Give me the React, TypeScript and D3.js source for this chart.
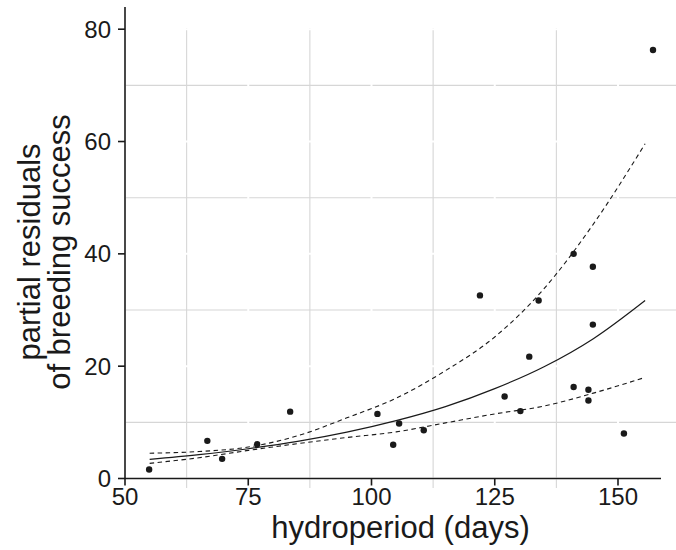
import React from "react";
import * as d3 from "d3";

const pointX = [54.9, 66.7, 69.7, 76.8, 83.5, 101.2, 104.4, 105.6, 110.6, 122.0, 127.0, 130.2, 132.0, 133.9, 141.0, 141.0, 144.0, 144.0, 144.9, 144.9, 151.2, 157.1];
const pointY = [1.6, 6.7, 3.5, 6.1, 11.9, 11.5, 6.0, 9.8, 8.6, 32.6, 14.6, 12.0, 21.7, 31.7, 40.0, 16.3, 15.8, 13.9, 37.7, 27.4, 8.0, 76.3];

const curveX = [55, 65, 75, 85, 95, 105, 115, 125, 135, 145, 155.5];
const fitY = [3.4, 4.25, 5.3, 6.6, 8.25, 10.3, 12.8, 16.0, 19.9, 24.9, 31.7];
const upperY = [4.5, 4.8, 5.6, 7.6, 10.8, 14.3, 19.2, 25.2, 33.8, 45.3, 59.6];
const lowerY = [2.7, 3.7, 5.0, 6.2, 7.3, 8.3, 9.9, 11.5, 12.9, 15.2, 18.0];

const xTicks = [50, 75, 100, 125, 150];
const xMinor = [62.5, 87.5, 112.5, 137.5];
const yTicks = [0, 20, 40, 60, 80];
const yMinor = [10, 30, 50, 70];

const xTitle = "hydroperiod (days)";
const yTitle1 = "partial residuals";
const yTitle2 = "of breeding success";

export default function App() {
  const W = 676, H = 550;
  const x = d3.scaleLinear().domain([50, 150]).range([125, 618]);
  const y = d3.scaleLinear().domain([0, 80]).range([478.5, 29.2]);
  const panelLeft = 125, panelRight = 676, panelTop = 28, panelBottom = 488;
  const axisRight = 661, axisTop = 7;
  const font = "'Liberation Sans', Arial, Helvetica, sans-serif";

  const line = d3.line<number>()
    .x((_, i) => x(curveX[i]))
    .curve(d3.curveMonotoneX);
  const fitPath = line.y((d) => y(d))(fitY) || "";
  const upPath = line.y((d) => y(d))(upperY) || "";
  const loPath = line.y((d) => y(d))(lowerY) || "";

  return (
    <svg width={W} height={H} style={{ position: "absolute", left: 0, top: 0, background: "#fff" }} fontFamily={font}>
      {xMinor.map((v) => (
        <line key={"xm" + v} x1={x(v)} x2={x(v)} y1={panelTop} y2={panelBottom} stroke="#d6d6d6" strokeWidth={1.1} />
      ))}
      {yMinor.map((v) => (
        <line key={"ym" + v} x1={panelLeft} x2={panelRight} y1={y(v)} y2={y(v)} stroke="#d6d6d6" strokeWidth={1.1} />
      ))}
      {xTicks.map((v) => (
        <line key={"xM" + v} x1={x(v)} x2={x(v)} y1={panelTop} y2={panelBottom} stroke="#fff" strokeWidth={2} />
      ))}
      {yTicks.map((v) => (
        <line key={"yM" + v} x1={panelLeft} x2={panelRight} y1={y(v)} y2={y(v)} stroke="#fff" strokeWidth={2} />
      ))}
      <path d={upPath} fill="none" stroke="#1a1a1a" strokeWidth={1.1} strokeDasharray="4.5,3.5" />
      <path d={loPath} fill="none" stroke="#1a1a1a" strokeWidth={1.1} strokeDasharray="4.5,3.5" />
      <path d={fitPath} fill="none" stroke="#1a1a1a" strokeWidth={1.2} />
      {pointX.map((v, i) => (
        <circle key={"p" + i} cx={x(v)} cy={y(pointY[i])} r={3.2} fill="#1a1a1a" />
      ))}
      <line x1={panelLeft} x2={axisRight} y1={y(0)} y2={y(0)} stroke="#1a1a1a" strokeWidth={1.6} />
      <line x1={panelLeft} x2={panelLeft} y1={axisTop} y2={y(0)} stroke="#1a1a1a" strokeWidth={1.6} />
      {xTicks.map((v) => (
        <g key={"xt" + v}>
          <line x1={x(v)} x2={x(v)} y1={y(0)} y2={y(0) + 7} stroke="#1a1a1a" strokeWidth={1.6} />
          <text x={x(v)} y={505} textAnchor="middle" fontSize={24} fill="#1a1a1a">{v}</text>
        </g>
      ))}
      {yTicks.map((v) => (
        <g key={"yt" + v}>
          <line x1={panelLeft - 7} x2={panelLeft} y1={y(v)} y2={y(v)} stroke="#1a1a1a" strokeWidth={1.6} />
          <text x={111} y={y(v)} dy="0.36em" textAnchor="end" fontSize={24} fill="#1a1a1a">{v}</text>
        </g>
      ))}
      <text x={(panelLeft + panelRight) / 2} y={538} textAnchor="middle" fontSize={31} fill="#1a1a1a">{xTitle}</text>
      <g transform={`translate(0, ${(panelTop + panelBottom) / 2 - 6}) rotate(-90)`}>
        <text x={0} y={40} textAnchor="middle" fontSize={31} fill="#1a1a1a">{yTitle1}</text>
        <text x={0} y={70} textAnchor="middle" fontSize={31} fill="#1a1a1a">{yTitle2}</text>
      </g>
    </svg>
  );
}
